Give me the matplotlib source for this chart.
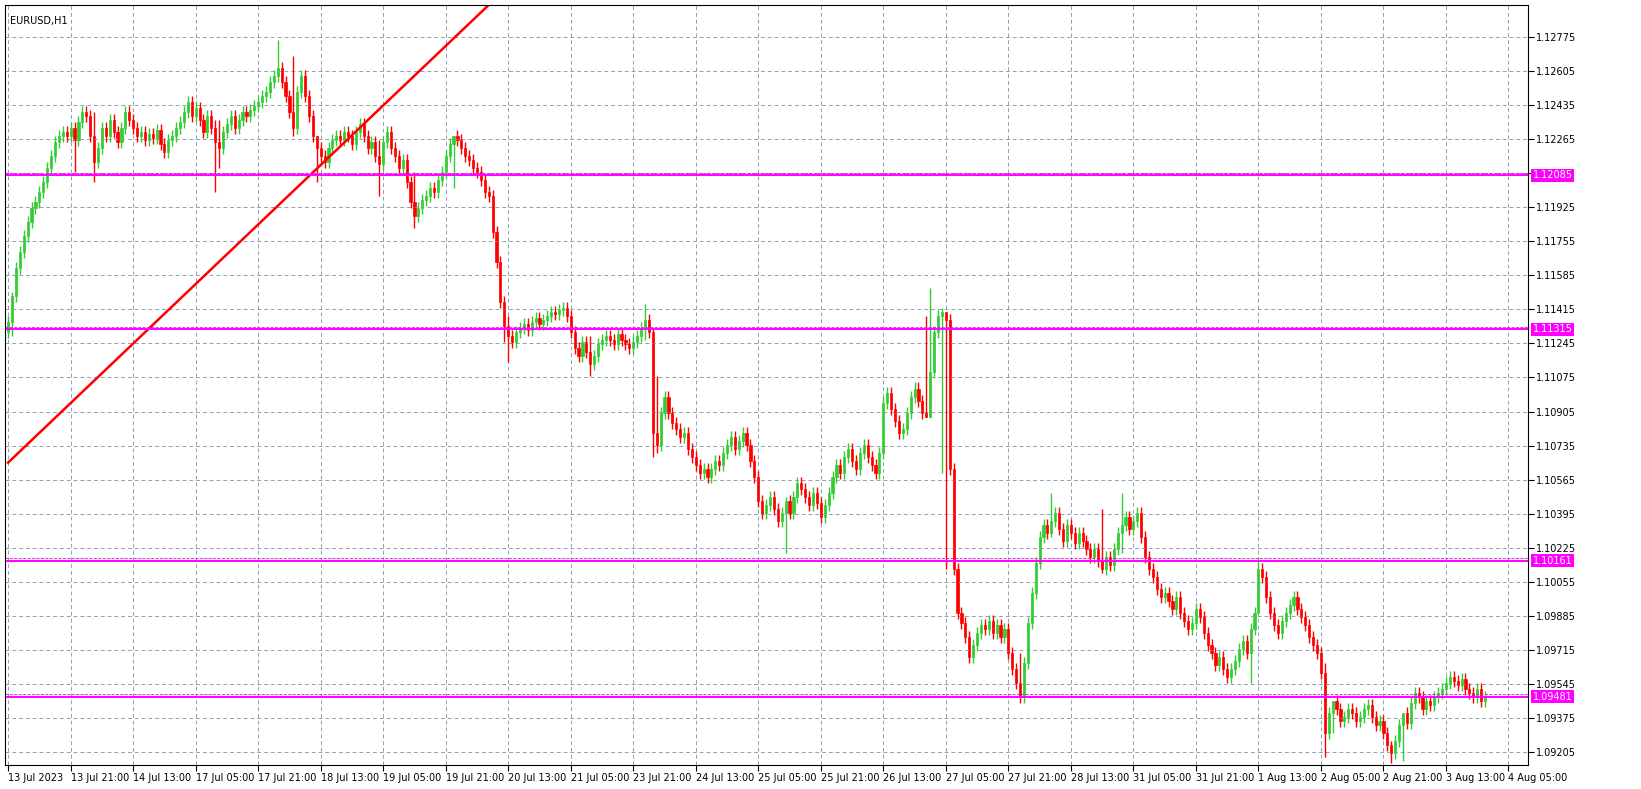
import matplotlib
matplotlib.use("Agg")
import matplotlib.pyplot as plt
import numpy as np

closes = [
1.1135,1.1148,1.1162,1.1170,1.1178,1.1185,1.1192,1.1195,1.1200,1.1205,1.1212,1.1218,1.1225,1.1228,1.1230,1.1228,
1.1232,1.1226,1.1235,1.1240,1.1238,1.1228,1.1215,1.1222,1.1232,1.1228,1.1236,1.1230,1.1225,1.1232,1.1240,1.1236,
1.1232,1.1228,1.1230,1.1226,1.1229,1.1227,1.1231,1.1224,1.1220,1.1226,1.1228,1.1232,1.1235,1.1240,1.1245,1.1238,
1.1242,1.1236,1.1230,1.1238,1.1232,1.1225,1.1222,1.1230,1.1234,1.1238,1.1232,1.1236,1.1240,1.1238,1.1241,1.1243,
1.1245,1.1248,1.1250,1.1255,1.1258,1.1262,1.1255,1.1248,1.1240,1.1232,1.1250,1.1258,1.1248,1.1238,1.1228,1.1222,
1.1218,1.1215,1.1222,1.1226,1.1228,1.1226,1.1230,1.1228,1.1224,1.1230,1.1234,1.1228,1.1222,1.1225,1.1218,1.1214,
1.1225,1.1230,1.1222,1.1218,1.1212,1.1216,1.1205,1.1195,1.1188,1.1192,1.1196,1.1198,1.1202,1.1200,1.1206,1.1210,
1.1218,1.1224,1.1228,1.1226,1.1222,1.1218,1.1216,1.1212,1.1210,1.1206,1.1200,1.1198,1.1180,1.1165,1.1145,1.1133,
1.1128,1.1125,1.1130,1.1132,1.1134,1.1131,1.1135,1.1137,1.1134,1.1136,1.1138,1.1140,1.1139,1.1141,1.1142,1.1138,
1.1130,1.1122,1.1118,1.1125,1.1120,1.1114,1.1118,1.1124,1.1126,1.1128,1.1126,1.1124,1.1129,1.1126,1.1124,1.1122,
1.1125,1.1128,1.1132,1.1136,1.1130,1.1080,1.1074,1.1090,1.1098,1.1090,1.1085,1.1082,1.1078,1.1080,1.1072,1.1068,
1.1064,1.1060,1.1062,1.1058,1.1062,1.1066,1.1064,1.1070,1.1074,1.1078,1.1072,1.1076,1.1080,1.1074,1.1066,1.1058,
1.1046,1.1040,1.1044,1.1048,1.1042,1.1036,1.1040,1.1046,1.1040,1.1048,1.1055,1.1052,1.1048,1.1044,1.1050,1.1045,
1.1038,1.1044,1.1050,1.1058,1.1064,1.1060,1.1068,1.1072,1.1066,1.1062,1.1070,1.1074,1.1068,1.1064,1.1060,1.1070,
1.1095,1.1100,1.1092,1.1086,1.1080,1.1082,1.1090,1.1098,1.1102,1.1096,1.1090,1.1088,1.1110,1.1130,1.1138,1.1140,
1.1136,1.1062,1.1012,1.0990,1.0985,1.0978,1.0968,1.0974,1.0980,1.0984,1.0982,1.0986,1.0980,1.0984,1.0978,1.0982,
1.0970,1.0962,1.0955,1.0948,1.0965,1.0985,1.1000,1.1015,1.1028,1.1034,1.1030,1.1036,1.1040,1.1032,1.1026,1.1034,
1.1030,1.1025,1.1030,1.1026,1.1022,1.1018,1.1022,1.1016,1.1012,1.1018,1.1014,1.1022,1.1030,1.1034,1.1038,1.1032,
1.1036,1.1040,1.1028,1.1018,1.1012,1.1008,1.1002,1.0998,1.1000,1.0996,1.0992,1.0998,1.0990,1.0986,1.0982,1.0985,
1.0992,1.0988,1.0980,1.0974,1.0970,1.0964,1.0968,1.0962,1.0958,1.0962,1.0966,1.0972,1.0976,1.0970,1.0982,1.0990,
1.1012,1.1008,1.0998,1.0990,1.0984,1.0980,1.0986,1.0990,1.0994,1.0998,1.0992,1.0988,1.0984,1.0978,1.0974,1.0970,
1.0960,1.0930,1.0940,1.0946,1.0942,1.0936,1.0938,1.0942,1.0940,1.0936,1.0938,1.0942,1.0944,1.0938,1.0934,1.0936,
1.0930,1.0924,1.0920,1.0926,1.0934,1.0940,1.0935,1.0945,1.0950,1.0948,1.0942,1.0946,1.0944,1.0948,1.0950,1.0952,
1.0955,1.0958,1.0956,1.0954,1.0957,1.0952,1.0950,1.0948,1.0952,1.0946,1.0948]
first_open = 1.1130
# notable wick extremes: bar index -> (high, low)
wick_override = {1: (1.1150, 1.1128), 17:(1.1235,1.1210), 22:(1.1240,1.1205), 53:(1.1236,1.1200), 54:(1.1236,1.1212),
                 69:(1.1276,1.1255), 73:(1.1268,1.1228), 79:(1.1226,1.1205), 95:(1.1226,1.1198), 104:(1.1210,1.1182),
                 114:(1.1213,1.1202), 127:(1.1148,1.1125), 128:(1.1138,1.1115), 149:(1.1128,1.1108), 163:(1.1144,1.1126),
                 165:(1.1132,1.1068), 166:(1.1108,1.1070), 199:(1.1048,1.1020), 235:(1.1138,1.1108), 236:(1.1152,1.1130),
                 239:(1.1142,1.1060), 240:(1.1064,1.1012), 259:(1.0970,1.0945), 267:(1.1050,1.1028), 280:(1.1042,1.1010),
                 285:(1.1050,1.1020), 318:(1.0985,1.0955), 320:(1.1018,1.1000), 337:(1.0965,1.0918), 339:(1.0946,1.0930),
                 354:(1.0926,1.0915), 357:(1.0936,1.0916)}
xlabels = ["13 Jul 2023","13 Jul 21:00","14 Jul 13:00","17 Jul 05:00","17 Jul 21:00","18 Jul 13:00","19 Jul 05:00",
           "19 Jul 21:00","20 Jul 13:00","21 Jul 05:00","23 Jul 21:00","24 Jul 13:00","25 Jul 05:00","25 Jul 21:00",
           "26 Jul 13:00","27 Jul 05:00","27 Jul 21:00","28 Jul 13:00","31 Jul 05:00","31 Jul 21:00","1 Aug 13:00",
           "2 Aug 05:00","2 Aug 21:00","3 Aug 13:00","4 Aug 05:00"]
hlevels = [1.12085, 1.11315, 1.10161, 1.09481]
trend = [(0, 1.1065), (123, 1.12935)]
price_ticks = [round(1.09035 + 0.0017*k, 5) for k in range(23)]

opens = [first_open] + closes[:-1]
fig = plt.figure(figsize=(16.41, 7.89), dpi=100)
ax = fig.add_axes([5/1641, 24/789, 1523/1641, 760/789])
ax.set_xlim(-0.8, 389)
ax.set_ylim(1.09140, 1.12935)
up_c, dn_c = "#32cd32", "#ff0000"
for i, (o, c) in enumerate(zip(opens, closes)):
    hi, lo = wick_override.get(i, (max(o, c) + 0.0003, min(o, c) - 0.0003))
    hi, lo = max(hi, o, c), min(lo, o, c)
    col = up_c if c >= o else dn_c
    ax.vlines(i, lo, hi, color=col, lw=1)
    ax.bar(i, max(abs(c - o), 0.00003), bottom=min(o, c), width=0.55, color=col, edgecolor=col, lw=0.5)
ax.plot([trend[0][0], trend[1][0]], [trend[0][1], trend[1][1]], color="#ff0000", lw=1.8)
for h in hlevels:
    ax.axhline(h, color="#ff00ff", lw=1.4)
    ax.axhline(h + 0.00012, color="#ff00ff", lw=0.6, ls="--")
ticks = [16*k for k in range(len(xlabels))]
ax.set_xticks(ticks)
ax.set_xticklabels(xlabels, fontsize=7, ha="left")
ax.yaxis.tick_right()
vis = [p for p in price_ticks if 1.0914 < p < 1.1293]
ax.set_yticks(vis)
ax.set_yticklabels([f"{p:.5f}" if min(abs(p - h) for h in hlevels) > 0.0004 else "" for p in vis], fontsize=7)
ax.tick_params(length=4, pad=2)
ax.grid(True, color="#8fa0b5", ls=(0, (4, 3)), lw=0.7)
for h in hlevels:
    ax.text(1.003, h, f"{h:.5f}", transform=ax.get_yaxis_transform(), fontsize=7, color="white",
            va="center", ha="left", bbox=dict(boxstyle="square,pad=0.15", fc="#ff00ff", ec="none"))
ax.text(0.003, 0.985, "EURUSD,H1", transform=ax.transAxes, fontsize=7, va="top")
for s in ax.spines.values():
    s.set_color("black"); s.set_linewidth(0.8)
fig.savefig("out.png", dpi=100)
